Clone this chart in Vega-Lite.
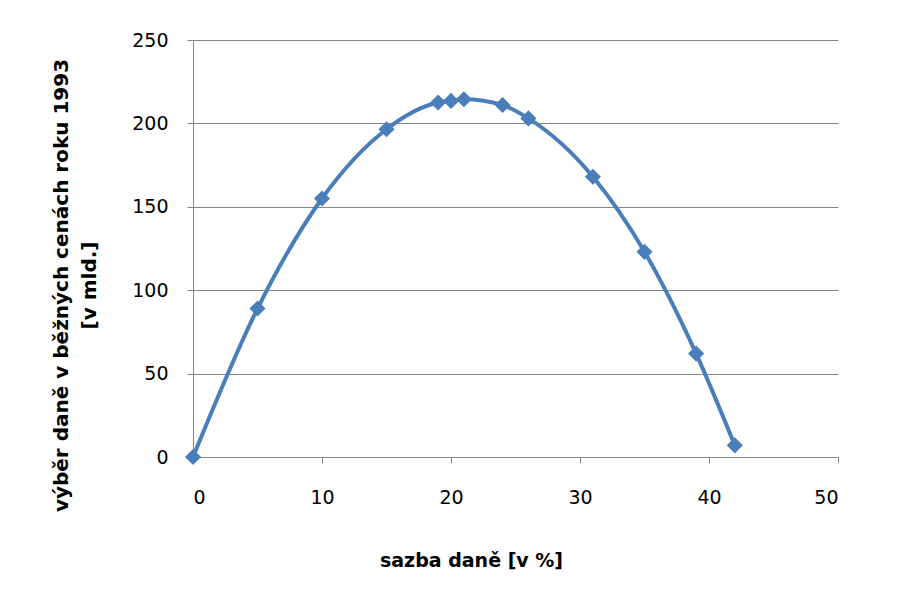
{
  "$schema": "https://vega.github.io/schema/vega-lite/v6.json",
  "width": 645,
  "height": 417,
  "autosize": {"type": "none"},
  "padding": {"left": 193, "top": 40, "right": 86, "bottom": 148},
  "background": "white",
  "config": {"view": {"stroke": null}},
  "data": {"values": [
    {"rate": 0, "tax": 0},
    {"rate": 5, "tax": 89},
    {"rate": 10, "tax": 155},
    {"rate": 15, "tax": 196.5},
    {"rate": 19, "tax": 212.5},
    {"rate": 20, "tax": 213.5},
    {"rate": 21, "tax": 214.5},
    {"rate": 24, "tax": 211},
    {"rate": 26, "tax": 203},
    {"rate": 31, "tax": 168},
    {"rate": 35, "tax": 123},
    {"rate": 39, "tax": 62},
    {"rate": 42, "tax": 7}
  ]},
  "encoding": {
    "x": {"field": "rate", "type": "quantitative",
      "scale": {"domain": [0, 50], "nice": false},
      "axis": {"values": [0, 10, 20, 30, 40, 50], "grid": false, "domainColor": "#868686", "tickColor": "#868686", "tickSize": 6,
        "labelFont": "DejaVu Sans", "labelFontSize": 19, "labelColor": "#000", "labelPadding": 25,
        "title": "sazba daně [v %]", "titleFont": "DejaVu Sans", "titleFontSize": 19, "titleFontWeight": "bold", "titleColor": "#000",
        "titleX": 278, "titleY": 103, "titleBaseline": "middle"}},
    "y": {"field": "tax", "type": "quantitative",
      "scale": {"domain": [0, 250], "nice": false},
      "axis": {"values": [0, 50, 100, 150, 200, 250], "grid": true, "gridColor": "#868686", "gridWidth": 1,
        "domainColor": "#868686", "tickColor": "#868686", "tickSize": 6,
        "labelFont": "DejaVu Sans", "labelFontSize": 19, "labelColor": "#000", "labelPadding": 19,
        "title": ["výběr daně v běžných cenách roku 1993", "[v mld.]"], "titleFont": "DejaVu Sans", "titleFontSize": 20, "titleFontWeight": "bold", "titleColor": "#000",
        "titleAngle": -90, "titleX": -142, "titleY": 245, "titleAlign": "center", "titleBaseline": "top", "titleLineHeight": 28}}
  },
  "layer": [
    {"mark": {"type": "line", "interpolate": "monotone", "color": "#4a7ebb", "strokeWidth": 4}},
    {"mark": {"type": "point", "shape": "diamond", "filled": true, "size": 260, "color": "#4a7ebb", "opacity": 1}}
  ]
}
